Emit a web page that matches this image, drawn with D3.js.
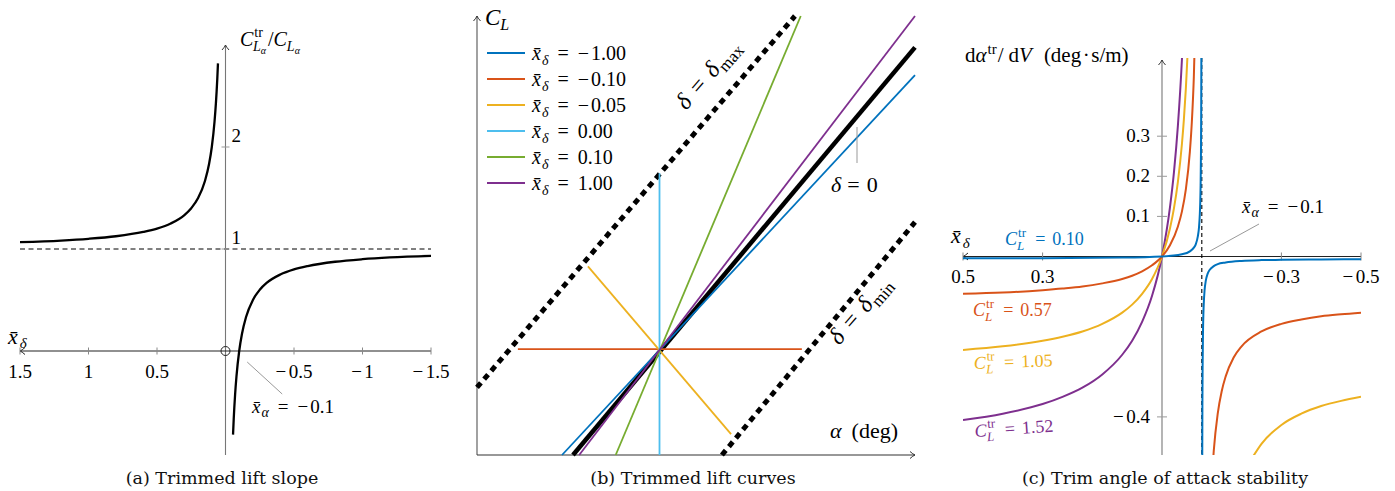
<!DOCTYPE html>
<html><head><meta charset="utf-8">
<script src="https://cdn.jsdelivr.net/npm/d3@7"></script>
<style>
body{margin:0;background:#fff}
svg text{font-family:"Liberation Serif","Times New Roman",serif}
.cap{font-family:"DejaVu Serif",serif}
</style></head>
<body><svg id="c" width="1395" height="491"></svg>
<script>
// ---------- Panel (a): trimmed lift slope ----------
const aUpper = [[1.5,1.067],[1.2,1.083],[1.0,1.1],[0.8,1.125],[0.6,1.167],[0.5,1.2],[0.4,1.25],[0.3,1.333],[0.25,1.4],[0.2,1.5],[0.15,1.667],[0.12,1.833],[0.1,2.0],[0.08,2.25],[0.07,2.43],[0.065,2.54],[0.06,2.667],[0.055,2.82]];
const aLower = [[-0.055,-0.82],[-0.06,-0.667],[-0.07,-0.429],[-0.08,-0.25],[-0.1,0],[-0.12,0.167],[-0.15,0.333],[-0.2,0.5],[-0.25,0.6],[-0.3,0.667],[-0.4,0.75],[-0.5,0.8],[-0.6,0.833],[-0.8,0.875],[-1.0,0.9],[-1.2,0.917],[-1.5,0.933]];
const aTicksX = [1.5,1,0.5,-0.5,-1,-1.5];
const aTickLabelsX = ["1.5","1","0.5","\u22120.5","\u22121","\u22121.5"];
const aTicksY = [1,2];
const aXalpha = -0.1;

// ---------- Panel (b): trimmed lift curves ----------
const bLegend = ["\u22121.00","\u22120.10","\u22120.05","0.00","0.10","1.00"];
const bColors = ["#0072BD","#D95319","#EDB120","#4DBEEE","#77AC30","#7E2F8E"];
// endpoints [alpha, CL] of each trimmed lift line
const bLines = [
  [[-2.67,-2.9],[7.0,7.51]],
  [[-3.88,0],[3.9,0]],
  [[-1.96,2.27],[1.96,-2.33]],
  [[0,4.82],[0,-2.9]],
  [[-1.2,-2.9],[3.87,9.13]],
  [[-2.2,-2.9],[7.0,9.13]]
];
const bDelta0 = [[-2.37,-2.9],[7.0,8.27]];
const bDeltaMax = [[-5,-1.05],[3.71,9.13]];
const bDeltaMin = [[1.71,-2.9],[7.0,3.48]];

// ---------- Panel (c): trim angle of attack stability ----------
const cLabels = ["0.10","0.57","1.05","1.52"];
const cColors = ["#0072BD","#D95319","#EDB120","#7E2F8E"];
const cPurpleL = [[0.5,-0.408],[0.4,-0.392],[0.3,-0.368],[0.25,-0.35],[0.2,-0.327],[0.15,-0.294],[0.1,-0.245],[0.075,-0.21],[0.05,-0.163],[0.025,-0.098],[0,0],[-0.02,0.1225],[-0.03,0.21],[-0.04,0.327],[-0.05,0.49],[-0.055,0.6]];
const cYellowL = [[0.5,-0.233],[0.4,-0.224],[0.3,-0.21],[0.25,-0.2],[0.2,-0.187],[0.15,-0.168],[0.1,-0.14],[0.075,-0.12],[0.05,-0.093],[0.025,-0.056],[0,0],[-0.02,0.07],[-0.03,0.12],[-0.04,0.187],[-0.05,0.28],[-0.055,0.342],[-0.06,0.42],[-0.065,0.52]];
const cYellowR = [[-0.22,-0.513],[-0.25,-0.467],[-0.3,-0.42],[-0.35,-0.392],[-0.4,-0.373],[-0.45,-0.36],[-0.5,-0.35]];
const cRedL = [[0.5,-0.093],[0.4,-0.09],[0.3,-0.084],[0.25,-0.08],[0.2,-0.075],[0.15,-0.067],[0.1,-0.056],[0.075,-0.048],[0.05,-0.037],[0.025,-0.022],[0,0],[-0.02,0.028],[-0.04,0.075],[-0.05,0.112],[-0.06,0.168],[-0.07,0.261],[-0.075,0.336],[-0.08,0.448],[-0.085,0.635]];
const cRedR = [[-0.125,-0.56],[-0.13,-0.485],[-0.14,-0.392],[-0.15,-0.336],[-0.16,-0.299],[-0.18,-0.252],[-0.2,-0.224],[-0.25,-0.187],[-0.3,-0.168],[-0.35,-0.157],[-0.4,-0.149],[-0.45,-0.144],[-0.5,-0.14]];
const cBlueL = [[0.5,-0.0046],[0.3,-0.0041],[0.1,-0.0028],[0,0],[-0.05,0.0055],[-0.07,0.0128],[-0.08,0.022],[-0.085,0.031],[-0.09,0.05],[-0.093,0.073],[-0.095,0.105],[-0.096,0.132],[-0.097,0.178],[-0.098,0.27],[-0.0985,0.361],[-0.099,0.545]];
const cBlueR = [[-0.101,-0.556],[-0.1015,-0.372],[-0.102,-0.281],[-0.103,-0.189],[-0.104,-0.143],[-0.105,-0.116],[-0.107,-0.084],[-0.11,-0.061],[-0.115,-0.042],[-0.12,-0.033],[-0.13,-0.024],[-0.14,-0.019],[-0.16,-0.015],[-0.2,-0.011],[-0.25,-0.009],[-0.3,-0.0083],[-0.4,-0.0073],[-0.5,-0.0069]];
const cTicksX = [0.5,0.3,-0.3,-0.5];
const cTickLabelsX = ["0.5","0.3","\u22120.3","\u22120.5"];
const cTicksY = [0.3,0.2,0.1,-0.4];
const cTickLabelsY = ["0.3","0.2","0.1","\u22120.4"];
const cXalpha = -0.1;

const svg = d3.select("#c");
const XB = "x\u0304";
const MINUS = "\u2212";

// parts: [text, italic, size, dx, dy]
function tex(sel, x, y, parts, size, color) {
  const t = sel.append("text").attr("x", x).attr("y", y).attr("font-size", size).attr("fill", color || "#000");
  parts.forEach(p => {
    const s = t.append("tspan").text(p[0]);
    if (p[1]) s.attr("font-style", "italic");
    if (p[2]) s.attr("font-size", p[2]);
    if (p[3]) s.attr("dx", p[3]);
    if (p[4]) s.attr("dy", p[4]);
  });
  return t;
}
function numParts(lab, size, gap) {
  if (lab[0] === MINUS) return [[MINUS, 0, size, gap], [lab.slice(1), 0, size, 2]];
  return [[lab, 0, size, gap]];
}
function arrow(sel, x, y, dir, color) {
  let d;
  if (dir === "l") d = `M${x+5},${y-3.5} Q${x+2},${y-0.8} ${x},${y} Q${x+2},${y+0.8} ${x+5},${y+3.5}`;
  if (dir === "r") d = `M${x-5},${y-3.5} Q${x-2},${y-0.8} ${x},${y} Q${x-2},${y+0.8} ${x-5},${y+3.5}`;
  if (dir === "u") d = `M${x-3.5},${y+5} Q${x-0.8},${y+2} ${x},${y} Q${x+0.8},${y+2} ${x+3.5},${y+5}`;
  sel.append("path").attr("d", d).attr("fill", "none").attr("stroke", color).attr("stroke-width", 1);
}
function caption(x, y, txt) {
  svg.append("text").attr("class", "cap").attr("x", x).attr("y", y).attr("text-anchor", "middle")
    .attr("font-size", 17.5).attr("fill", "#111").text(txt);
}
function tickLabel(sel, x, y, lab, size, anchor) {
  const t = sel.append("text").attr("x", x).attr("y", y).attr("font-size", size).attr("text-anchor", anchor);
  if (lab[0] === MINUS) { t.append("tspan").text(MINUS); t.append("tspan").attr("dx", 2.5).text(lab.slice(1)); }
  else t.text(lab);
  return t;
}

// ================= Panel A =================
{
  const g = svg.append("g");
  const x = d3.scaleLinear([1.5, -1.5], [20, 431]);
  const y = d3.scaleLinear([0, 1], [351, 249]);
  const x0 = x(0), y0 = y(0);
  g.append("line").attr("x1", x(1.5)).attr("x2", x(-1.5)).attr("y1", y(1)).attr("y2", y(1))
    .attr("stroke", "#000").attr("stroke-width", 1).attr("stroke-dasharray", "5,3.5");
  g.append("line").attr("x1", x0).attr("x2", x0).attr("y1", 455).attr("y2", 45).attr("stroke", "#777").attr("stroke-width", 1.1);
  arrow(g, x0, 45, "u", "#333");
  aTicksY.forEach(v => {
    g.append("line").attr("x1", x0 - 4).attr("x2", x0 + 4).attr("y1", y(v)).attr("y2", y(v)).attr("stroke", "#999");
    g.append("text").attr("x", x0 + 6).attr("y", y(v) - 5).attr("font-size", 19).text(String(v));
  });
  g.append("line").attr("x1", x(-1.5)).attr("x2", x(1.5)).attr("y1", y0).attr("y2", y0).attr("stroke", "#222").attr("stroke-width", 1.1);
  arrow(g, x(1.5), y0, "l", "#222");
  aTicksX.forEach((v, i) => {
    g.append("line").attr("x1", x(v)).attr("x2", x(v)).attr("y1", y0 - 3.5).attr("y2", y0 + 3.5).attr("stroke", "#888");
    tickLabel(g, x(v), 378, aTickLabelsX[i], 19, "middle");
  });
  g.append("circle").attr("cx", x0).attr("cy", y0).attr("r", 4.5).attr("fill", "none").attr("stroke", "#222").attr("stroke-width", 1);
  const line = d3.line().x(d => x(d[0])).y(d => y(d[1])).curve(d3.curveMonotoneX);
  [aUpper, aLower].forEach(dat => g.append("path").attr("d", line(dat)).attr("fill", "none").attr("stroke", "#000").attr("stroke-width", 2.3));
  g.append("line").attr("x1", x(aXalpha) + 8).attr("y1", y0 + 11).attr("x2", x(aXalpha) + 43).attr("y2", y0 + 43).attr("stroke", "#999").attr("stroke-width", 1);
  tex(g, 252, 413, [[XB, 1], ["\u03b1", 1, 14, 1, 4], ["=", 0, 19, 9, -4]].concat(numParts(MINUS + "0.1", 19, 9)), 19);
  tex(g, 240, 46, [["C", 1], ["tr", 0, 14, 1, -9], ["L", 1, 14, -10, 14], ["\u03b1", 1, 10, 0, 3], ["/", 0, 20, 2, -8], ["C", 1, 20], ["L", 1, 14, 0, 5], ["\u03b1", 1, 10, 0, 3]], 20);
  tex(g, 8, 344, [[XB, 1], ["\u03b4", 1, 15, 2, 4]], 22);
  caption(222, 484, "(a) Trimmed lift slope");
}

// ================= Panel B =================
{
  const g = svg.append("g");
  const x = d3.scaleLinear([-5, 7], [477, 915]);
  const y = d3.scaleLinear([-2.9, 9.13], [455, 16]);
  g.append("line").attr("x1", x(-5)).attr("x2", x(-5)).attr("y1", 455).attr("y2", 16).attr("stroke", "#555").attr("stroke-width", 1.1);
  arrow(g, x(-5), 16, "u", "#333");
  g.append("line").attr("x1", x(-5)).attr("x2", x(7)).attr("y1", 455).attr("y2", 455).attr("stroke", "#333").attr("stroke-width", 1.1);
  arrow(g, x(7), 455, "r", "#333");
  const seg = (s, col, w, dash) => {
    const p = g.append("line").attr("x1", x(s[0][0])).attr("y1", y(s[0][1])).attr("x2", x(s[1][0])).attr("y2", y(s[1][1]))
      .attr("stroke", col).attr("stroke-width", w);
    if (dash) p.attr("stroke-dasharray", dash);
  };
  seg(bDeltaMax, "#000", 5, "6,5");
  seg(bDeltaMin, "#000", 5, "6,5");
  seg(bDelta0, "#000", 4.5);
  bLines.forEach((s, i) => seg(s, bColors[i], 1.8));
  bLegend.forEach((lab, i) => {
    const ly = 53 + i * 26;
    g.append("line").attr("x1", 487).attr("x2", 525).attr("y1", ly).attr("y2", ly).attr("stroke", bColors[i]).attr("stroke-width", 1.8);
    tex(g, 532, ly + 7, [[XB, 1], ["\u03b4", 1, 14, 1, 5], ["=", 0, 20, 9, -5]].concat(numParts(lab, 20, 9)), 20);
  });
  tex(g, 485, 25, [["C", 1], ["L", 1, 16, 0, 5]], 23);
  tex(g, 830, 438, [["\u03b1", 1], ["(deg)", 0, 22, 10]], 22);
  g.append("line").attr("x1", 857).attr("x2", 857).attr("y1", 127).attr("y2", 163).attr("stroke", "#999").attr("stroke-width", 1);
  tex(g, 831, 192, [["\u03b4", 1], ["=", 0, 22, 6], ["0", 0, 22, 7]], 22);
  tex(g, 0, 0, [["\u03b4", 1], ["=", 0, 24, 9], ["\u03b4", 1, 24, 9], ["max", 0, 17, 1, 5]], 24).attr("transform", "translate(686,111) rotate(-49)");
  tex(g, 0, 0, [["\u03b4", 1], ["=", 0, 24, 9], ["\u03b4", 1, 24, 9], ["min", 0, 17, 1, 5]], 24).attr("transform", "translate(839,346) rotate(-49)");
  caption(693, 484, "(b) Trimmed lift curves");
}

// ================= Panel C =================
{
  const g = svg.append("g");
  const x = d3.scaleLinear([0.5, -0.5], [963, 1361]);
  const y = d3.scaleLinear([-0.495, 0.49], [455, 60]);
  const x0 = x(0), y0 = y(0);
  svg.append("clipPath").attr("id", "cclip").append("rect").attr("x", 963).attr("y", 58).attr("width", 398).attr("height", 397);
  g.append("line").attr("x1", x0).attr("x2", x0).attr("y1", 455).attr("y2", 60).attr("stroke", "#777").attr("stroke-width", 1.1);
  arrow(g, x0, 60, "u", "#333");
  cTicksY.forEach((v, i) => {
    g.append("line").attr("x1", x0 - 5).attr("x2", x0 + 5).attr("y1", y(v)).attr("y2", y(v)).attr("stroke", "#999");
    tickLabel(g, x0 - 12, y(v) + 6, cTickLabelsY[i], 19, "end");
  });
  g.append("line").attr("x1", x(-0.5)).attr("x2", x(0.5)).attr("y1", y0).attr("y2", y0).attr("stroke", "#222").attr("stroke-width", 1.1);
  arrow(g, x(0.5), y0, "l", "#222");
  cTicksX.forEach((v, i) => {
    g.append("line").attr("x1", x(v)).attr("x2", x(v)).attr("y1", y0 - 4).attr("y2", y0 + 4).attr("stroke", "#888");
    tickLabel(g, x(v), 283, cTickLabelsX[i], 19, "middle");
  });
  g.append("line").attr("x1", x(cXalpha)).attr("x2", x(cXalpha)).attr("y1", 58).attr("y2", 455)
    .attr("stroke", "#000").attr("stroke-width", 1.1).attr("stroke-dasharray", "4,3");
  const line = d3.line().x(d => x(d[0])).y(d => y(d[1])).curve(d3.curveMonotoneX);
  const cg = g.append("g").attr("clip-path", "url(#cclip)");
  const curves = [[cPurpleL, 3], [cYellowL, 2], [cYellowR, 2], [cRedL, 1], [cRedR, 1], [cBlueL, 0], [cBlueR, 0]];
  curves.forEach(c => cg.append("path").attr("d", line(c[0])).attr("fill", "none").attr("stroke", cColors[c[1]]).attr("stroke-width", 2));
  const cl = (px, py, i, rot) => {
    const t = tex(g, 0, 0, [["C", 1], ["tr", 0, 13, 1, -8], ["L", 1, 13, -9, 13], ["=", 0, 18, 11, -5], [cLabels[i], 0, 18, 7]], 18, cColors[i]);
    t.attr("transform", `translate(${px},${py}) rotate(${rot})`);
  };
  cl(1005, 245, 0, 0);
  cl(973, 316, 1, 0);
  cl(974, 369, 2, -2);
  cl(975, 437, 3, -4);
  g.append("line").attr("x1", 1259).attr("y1", 224).attr("x2", 1210).attr("y2", 251).attr("stroke", "#999").attr("stroke-width", 1);
  tex(g, 1242, 213, [[XB, 1], ["\u03b1", 1, 14, 1, 4], ["=", 0, 19, 9, -4]].concat(numParts(MINUS + "0.1", 19, 9)), 19);
  tex(g, 951, 243, [[XB, 1], ["\u03b4", 1, 15, 2, 5]], 22);
  tex(g, 965, 62, [["d", 0], ["\u03b1", 1], ["tr", 0, 15, 1, -8], ["/", 0, 21, 1, 8], ["d", 0, 21, 5], ["V", 1], ["(deg", 0, 21, 12], ["\u00b7", 0, 21, 1.5], ["s/m)", 0, 21, 1.5]], 21);
  caption(1165, 484, "(c) Trim angle of attack stability");
}
</script></body></html>
